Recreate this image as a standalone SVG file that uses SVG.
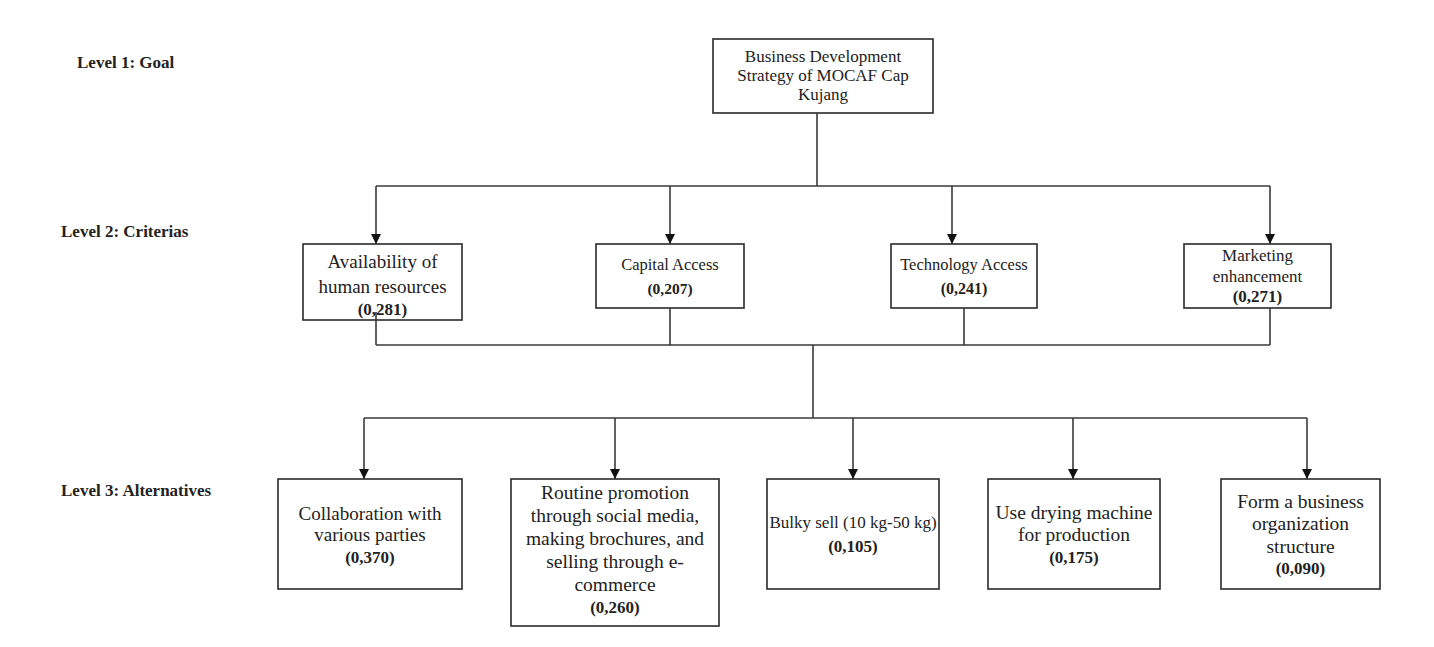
<svg xmlns="http://www.w3.org/2000/svg" width="1434" height="647" viewBox="0 0 1434 647">
<defs>
<marker id="arr" viewBox="0 0 10 10" refX="10" refY="5" markerWidth="10" markerHeight="10" markerUnits="userSpaceOnUse" orient="auto">
<path d="M0,0 L10,5 L0,10 Z" fill="#111"/>
</marker>
<style>
.box{fill:#fff;stroke:#2a2a2a;stroke-width:1.6}
.t{font-family:"Liberation Serif","Times New Roman",serif;fill:#222;text-anchor:middle}
.b{font-weight:bold;font-size:17px}
.lvl{font-family:"Liberation Serif","Times New Roman",serif;font-weight:bold;font-size:17px;fill:#222}
.ln{fill:none;stroke:#3a3a3a;stroke-width:1.6}
.ar{fill:none;stroke:#3a3a3a;stroke-width:1.6;marker-end:url(#arr)}
</style>
</defs>
<rect width="1434" height="647" fill="#fff"/>

<g id="labels">
<text class="lvl" x="77" y="68">Level 1: Goal</text>
<text class="lvl" x="61" y="237">Level 2: Criterias</text>
<text class="lvl" x="61" y="496">Level 3: Alternatives</text>
</g>

<g id="goal">
<rect class="box" x="713" y="39" width="220" height="74"/>
<text class="t" x="823" y="62" font-size="17">Business Development</text>
<text class="t" x="823" y="81" font-size="17">Strategy of MOCAF Cap</text>
<text class="t" x="823" y="100" font-size="17">Kujang</text>
</g>

<g id="c1">
<rect class="box" x="303" y="244" width="159" height="76"/>
<text class="t" x="382.5" y="268" font-size="19">Availability of</text>
<text class="t" x="382.5" y="293" font-size="19">human resources</text>
<text class="t b" x="382.5" y="315">(0,281)</text>
</g>
<g id="c2">
<rect class="box" x="596" y="244" width="148" height="64"/>
<text class="t" x="670" y="270" font-size="16.5">Capital Access</text>
<text class="t b" x="670" y="294" style="font-size:15.5px">(0,207)</text>
</g>
<g id="c3">
<rect class="box" x="891" y="244" width="146" height="64"/>
<text class="t" x="964" y="270" font-size="16.5">Technology Access</text>
<text class="t b" x="964" y="294" style="font-size:16px">(0,241)</text>
</g>
<g id="c4">
<rect class="box" x="1184" y="244" width="147" height="64"/>
<text class="t" x="1257.5" y="261" font-size="17">Marketing</text>
<text class="t" x="1257.5" y="282" font-size="17">enhancement</text>
<text class="t b" x="1257.5" y="302">(0,271)</text>
</g>

<g id="a1">
<rect class="box" x="278" y="479" width="184" height="110"/>
<text class="t" x="370" y="520" font-size="19">Collaboration with</text>
<text class="t" x="370" y="541" font-size="19">various parties</text>
<text class="t b" x="370" y="563">(0,370)</text>
</g>
<g id="a2">
<rect class="box" x="511" y="479" width="208" height="147"/>
<text class="t" x="615" y="499" font-size="19.5">Routine promotion</text>
<text class="t" x="615" y="522" font-size="19.5">through social media,</text>
<text class="t" x="615" y="545" font-size="19.5">making brochures, and</text>
<text class="t" x="615" y="568" font-size="19.5">selling through e-</text>
<text class="t" x="615" y="591" font-size="19.5">commerce</text>
<text class="t b" x="615" y="613">(0,260)</text>
</g>
<g id="a3">
<rect class="box" x="767" y="479" width="172" height="110"/>
<text class="t" x="853" y="528" font-size="17">Bulky sell (10 kg-50 kg)</text>
<text class="t b" x="853" y="552">(0,105)</text>
</g>
<g id="a4">
<rect class="box" x="988" y="479" width="172" height="110"/>
<text class="t" x="1074" y="519" font-size="19.5">Use drying machine</text>
<text class="t" x="1074" y="541" font-size="19.5">for production</text>
<text class="t b" x="1074" y="563">(0,175)</text>
</g>
<g id="a5">
<rect class="box" x="1221" y="479" width="159" height="110"/>
<text class="t" x="1300.5" y="508" font-size="19.5">Form a business</text>
<text class="t" x="1300.5" y="530" font-size="19.5">organization</text>
<text class="t" x="1300.5" y="553" font-size="19.5">structure</text>
<text class="t b" x="1300.5" y="574">(0,090)</text>
</g>

<g id="connectors">
<path class="ln" d="M817,113 V186 M376,186 H1270"/>
<path class="ar" d="M376,186 V244"/>
<path class="ar" d="M670,186 V244"/>
<path class="ar" d="M952,186 V244"/>
<path class="ar" d="M1270,186 V244"/>
<path class="ln" d="M376,312 V345 M670,308 V345 M964,308 V345 M1270,308 V345 M376,345 H1270"/>
<path class="ln" d="M813,345 V418 M364,418 H1307"/>
<path class="ar" d="M364,418 V479"/>
<path class="ar" d="M615,418 V479"/>
<path class="ar" d="M853,418 V479"/>
<path class="ar" d="M1073,418 V479"/>
<path class="ar" d="M1307,418 V479"/>
</g>
</svg>
